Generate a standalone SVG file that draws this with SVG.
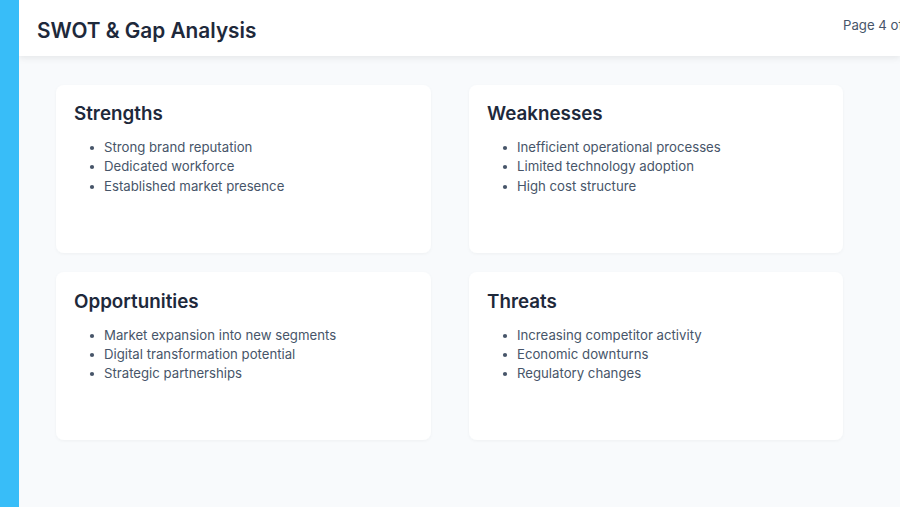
<svg xmlns="http://www.w3.org/2000/svg" width="900" height="507" viewBox="0 0 900 507">
<defs>
<filter id="sh" x="-10%" y="-50%" width="120%" height="200%"><feDropShadow dx="0" dy="2" stdDeviation="3" flood-color="#0f172a" flood-opacity="0.08"/></filter>
<filter id="cs" x="-10%" y="-10%" width="120%" height="130%"><feDropShadow dx="0" dy="1" stdDeviation="1.5" flood-color="#0f172a" flood-opacity="0.04"/></filter>
<style>
.card{fill:#ffffff;filter:url(#cs)}
.ct{font-family:Inter,"Liberation Sans",sans-serif;font-size:18.8px;font-weight:600;fill:#1e293b}
.li{font-family:Inter,"Liberation Sans",sans-serif;font-size:13.2px;fill:#475569}
.dot{fill:#475569}
</style>
</defs>
<rect width="900" height="507" fill="#f8fafc"/>
<rect x="19" y="0" width="881" height="56" fill="#ffffff" filter="url(#sh)"/>
<rect x="0" y="0" width="19" height="507" fill="#38bdf8"/>
<text x="37" y="38" font-family="Inter,'Liberation Sans',sans-serif" font-size="20.8" font-weight="600" fill="#1e293b">SWOT &amp; Gap Analysis</text>
<text x="843" y="30" font-family="Inter,'Liberation Sans',sans-serif" font-size="13.2" fill="#475569">Page 4 of</text>
<g id="strengths">
<rect class="card" x="56" y="85" width="375" height="168" rx="8"/>
<text class="ct" x="74" y="120">Strengths</text>
<circle class="dot" cx="92" cy="148" r="2.1"/><text class="li" x="104" y="152">Strong brand reputation</text>
<circle class="dot" cx="92" cy="167" r="2.1"/><text class="li" x="104" y="171">Dedicated workforce</text>
<circle class="dot" cx="92" cy="187" r="2.1"/><text class="li" x="104" y="191">Established market presence</text>
</g>
<g id="weaknesses">
<rect class="card" x="469" y="85" width="374" height="168" rx="8"/>
<text class="ct" x="487" y="120">Weaknesses</text>
<circle class="dot" cx="505" cy="148" r="2.1"/><text class="li" x="517" y="152">Inefficient operational processes</text>
<circle class="dot" cx="505" cy="167" r="2.1"/><text class="li" x="517" y="171">Limited technology adoption</text>
<circle class="dot" cx="505" cy="187" r="2.1"/><text class="li" x="517" y="191">High cost structure</text>
</g>
<g id="opportunities">
<rect class="card" x="56" y="272" width="375" height="168" rx="8"/>
<text class="ct" x="74" y="308">Opportunities</text>
<circle class="dot" cx="92" cy="336" r="2.1"/><text class="li" x="104" y="340">Market expansion into new segments</text>
<circle class="dot" cx="92" cy="355" r="2.1"/><text class="li" x="104" y="359">Digital transformation potential</text>
<circle class="dot" cx="92" cy="374" r="2.1"/><text class="li" x="104" y="378">Strategic partnerships</text>
</g>
<g id="threats">
<rect class="card" x="469" y="272" width="374" height="168" rx="8"/>
<text class="ct" x="487" y="308">Threats</text>
<circle class="dot" cx="505" cy="336" r="2.1"/><text class="li" x="517" y="340">Increasing competitor activity</text>
<circle class="dot" cx="505" cy="355" r="2.1"/><text class="li" x="517" y="359">Economic downturns</text>
<circle class="dot" cx="505" cy="374" r="2.1"/><text class="li" x="517" y="378">Regulatory changes</text>
</g>
<g id="connectors"/>
</svg>
